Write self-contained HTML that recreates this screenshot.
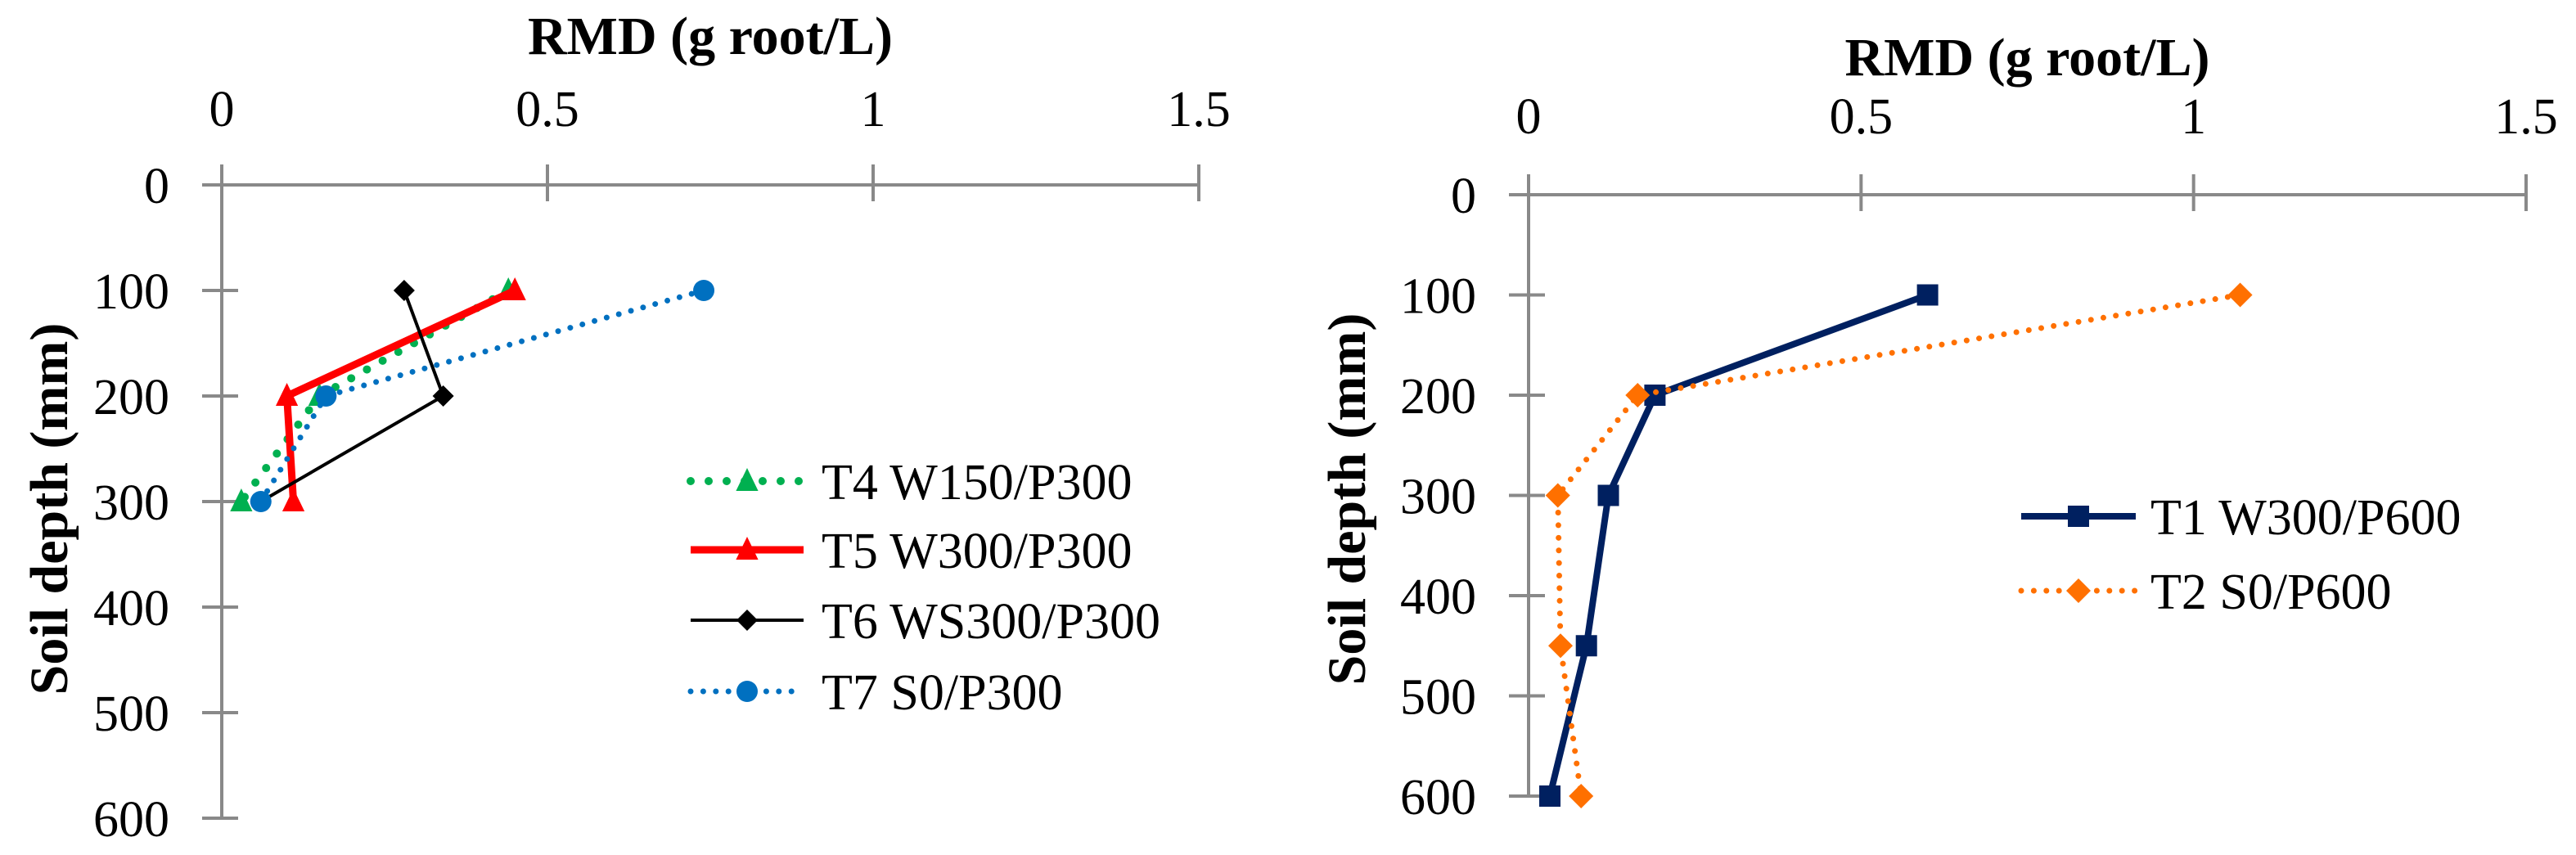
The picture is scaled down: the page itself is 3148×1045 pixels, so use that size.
<!DOCTYPE html>
<html><head><meta charset="utf-8"><style>
html,body{margin:0;padding:0;background:#fff;}
svg text{font-family:"Liberation Serif",serif;fill:#000;}
</style></head><body>
<svg id="chart" width="3148" height="1040" viewBox="0 0 3148 1040" xmlns="http://www.w3.org/2000/svg"></svg>
<script>
const xTicks = [0, 0.5, 1, 1.5];
const yTicks = [0, 100, 200, 300, 400, 500, 600];
// Left chart series
const leftNames = ["T4 W150/P300", "T5 W300/P300", "T6 WS300/P300", "T7 S0/P300"];
const t4Depth = [100, 200, 300];
const t4Rmd = [0.44, 0.15, 0.03];
const t5Depth = [100, 200, 300];
const t5Rmd = [0.45, 0.10, 0.11];
const t6Depth = [100, 200, 300];
const t6Rmd = [0.28, 0.34, 0.06];
const t7Depth = [100, 200, 300];
const t7Rmd = [0.74, 0.16, 0.06];
// Right chart series
const rightNames = ["T1 W300/P600", "T2 S0/P600"];
const t1Depth = [100, 200, 300, 450, 600];
const t1Rmd = [0.60, 0.19, 0.12, 0.087, 0.032];
const t2Depth = [100, 200, 300, 450, 600];
const t2Rmd = [1.07, 0.164, 0.044, 0.048, 0.079];

const NS = "http://www.w3.org/2000/svg";
const svg = document.getElementById("chart");
function mk(tag, attrs, parent){
  const e = document.createElementNS(NS, tag);
  for (const k in attrs) e.setAttribute(k, attrs[k]);
  (parent||svg).appendChild(e);
  return e;
}
function marker(g, type, x, y, color, size){
  let m;
  if (type === "tri") m = mk("polygon", {points:`${x},${y-size} ${x-size*0.85},${y+size*0.75} ${x+size*0.85},${y+size*0.75}`, fill:color}, g);
  else if (type === "dia") m = mk("polygon", {points:`${x},${y-size} ${x+size},${y} ${x},${y+size} ${x-size},${y}`, fill:color}, g);
  else if (type === "circ") m = mk("circle", {cx:x, cy:y, r:size, fill:color}, g);
  else m = mk("rect", {x:x-size, y:y-size, width:size*2, height:size*2, fill:color}, g);
  return m;
}
function styleFor(s){
  if (s.dash==="dot") return {"stroke-dasharray":`0 ${s.w*2.2}`, "stroke-linecap":"round"};
  return {"stroke-linejoin":"miter"};
}
function buildChart(cfg){
  const g = mk("g", {});
  
  
  const sx = v => cfg.x0 + (cfg.x15 - cfg.x0) * v / 1.5;
  const sy = d => cfg.y0 + (cfg.y600 - cfg.y0) * d / 600;
  const ax = mk("g", {}, g);
  
  
  mk("line", {x1:sx(0)-24, y1:sy(0), x2:sx(1.5), y2:sy(0), stroke:"#898989", "stroke-width":4}, ax);
  mk("line", {x1:sx(0), y1:sy(0)-25, x2:sx(0), y2:sy(600), stroke:"#898989", "stroke-width":4}, ax);
  xTicks.forEach(v=>{
    if (v>0) mk("line", {x1:sx(v), y1:sy(0)-25, x2:sx(v), y2:sy(0)+20, stroke:"#898989", "stroke-width":4}, ax);
    const t = mk("text", {x:sx(v), y:cfg.xLabY, "font-size":62, "text-anchor":"middle"}, ax);
    t.textContent = String(v);
    
    
  });
  yTicks.forEach(d=>{
    if (d>0) mk("line", {x1:sx(0)-24, y1:sy(d), x2:sx(0)+20, y2:sy(d), stroke:"#898989", "stroke-width":4}, ax);
    const t = mk("text", {x:cfg.yLabX, y:sy(d)+22, "font-size":62, "text-anchor":"end"}, ax);
    t.textContent = String(d);
    
    
  });
  const title = mk("text", {x:(sx(0)+sx(1.5))/2, y:cfg.titleY, "font-size":66, "font-weight":"bold", "text-anchor":"middle"}, g);
  title.textContent = "RMD (g root/L)";
  
  
  const yt = mk("text", {x:0, y:0, "font-size":66, "font-weight":"bold", "text-anchor":"middle", transform:`translate(${cfg.yTitleX},${cfg.yTitleY}) rotate(-90)`}, g);
  yt.textContent = "Soil depth (mm)";
  
  

  cfg.series.forEach((s, i)=>{
    const sg = mk("g", {}, g);
    
    
    const pts = s.rmd.map((v,k)=>`${sx(v)},${sy(s.depth[k])}`).join(" ");
    mk("polyline", Object.assign({points:pts, fill:"none", stroke:s.color, "stroke-width":s.w}, styleFor(s)), sg);
    s.rmd.forEach((v,k)=>{
      const m = marker(sg, s.mk, sx(v), sy(s.depth[k]), s.color, s.ms);
      
      
    });
    const lg = mk("g", {}, g);
    
    
    const ly = cfg.legY[i];
    mk("line", Object.assign({x1:cfg.legX1, y1:ly, x2:cfg.legX2, y2:ly, stroke:s.color, "stroke-width":s.w}, styleFor(s)), lg);
    marker(lg, s.mk, (cfg.legX1+cfg.legX2)/2, ly, s.color, s.ms);
    const lt = mk("text", {x:cfg.legTX, y:ly+22, "font-size":62}, lg);
    lt.textContent = s.label;
  });
}
buildChart({
  name:"left-chart", x0:271, x15:1465, y0:226, y600:1000,
  xLabY:154, yLabX:207, titleY:66, yTitleX:82, yTitleY:622,
  legX1:844, legX2:982, legTX:1004, legY:[588,672,758,845],
  series:[
    {label:leftNames[0], depth:t4Depth, rmd:t4Rmd, color:"#00b050", w:10, dash:"dot", mk:"tri", ms:16},
    {label:leftNames[1], depth:t5Depth, rmd:t5Rmd, color:"#ff0000", w:9, dash:"solid", mk:"tri", ms:16},
    {label:leftNames[2], depth:t6Depth, rmd:t6Rmd, color:"#000000", w:4, dash:"solid", mk:"dia", ms:13},
    {label:leftNames[3], depth:t7Depth, rmd:t7Rmd, color:"#0070c0", w:7, dash:"dot", mk:"circ", ms:13}
  ]
});
buildChart({
  name:"right-chart", x0:1868, x15:3087, y0:238, y600:973,
  xLabY:163, yLabX:1804, titleY:92, yTitleX:1668, yTitleY:610,
  legX1:2470, legX2:2610, legTX:2628, legY:[631,722],
  series:[
    {label:rightNames[0], depth:t1Depth, rmd:t1Rmd, color:"#002060", w:8, dash:"solid", mk:"sq", ms:13},
    {label:rightNames[1], depth:t2Depth, rmd:t2Rmd, color:"#ff7000", w:7, dash:"dot", mk:"dia", ms:15}
  ]
});
</script>
</body></html>
